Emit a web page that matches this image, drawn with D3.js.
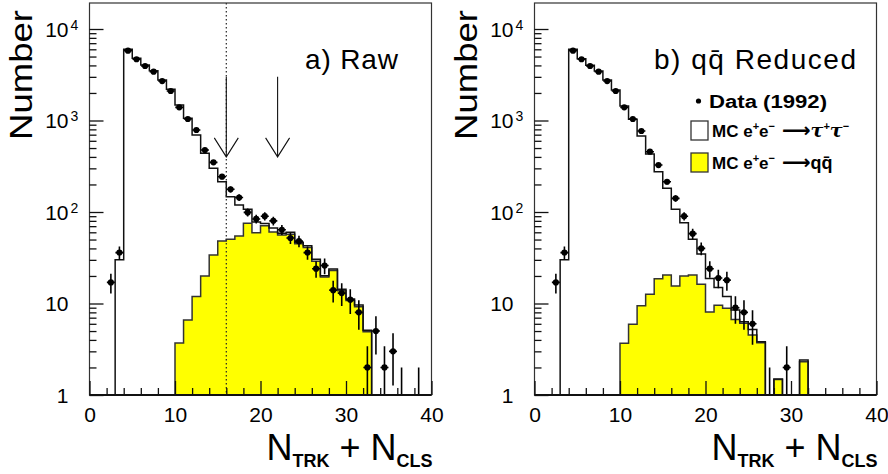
<!DOCTYPE html>
<html><head><meta charset="utf-8">
<script src="https://cdn.jsdelivr.net/npm/d3@7"></script>
<style>body{margin:0;background:#fff}svg{display:block}</style>
</head><body>
<svg id="c" width="888" height="474"></svg>
<script>
// ---- data (bins of width 1 from 0 to 40, index = lower edge) ----
const binEdges = d3.range(0, 41);
const leftData    = [0,0,17,36,5800,4670,3940,3415,2700,2100,1393,1038,787,476,349,243,177,144,99,84,90,80,64,52,48,36,24,26,14,13,11,8,2,5,2,3,1,0,1,0];
const leftMcStack = [0,0,0,30,6000,4786,4040,3500,2770,2193,1476,1057,695,438,300,214,147,119,107,78,75,67,58.5,60,46.6,42.8,30.4,20.1,23.8,14.3,11.2,9.6,5.1,0,0,0,0,0,0,0];
const leftQQ      = [0,0,0,0,0,0,0,0,0,0,3.7,6.6,11.9,20,33.9,48.2,50.3,54.7,75.2,59.4,70.8,60.5,56,57,45,41,29,19.5,23,13.8,10.8,9.2,4.9,0,0,0,0,0,0,0];
const rightData    = [0,0,17,36,5800,4670,3940,3415,2700,2100,1393,1038,768,456,326,214,141,90,58,40,24,19,18,9,8,6,0,1,0,2,0,0,0,0,0,0,0,0,0,0];
const rightMcStack = [0,0,0,30,6000,4740,4010,3475,2770,2155,1440,1030,677,430,276,182,107,76.4,50.3,34.8,18.8,15,11.9,8.5,6.3,5.2,3.83,0,1.5,0,0,2.41,0,0,0,0,0,0,0,0];
const rightQQ      = [0,0,0,0,0,0,0,0,0,0,3.67,5.93,9.46,12.6,18.7,20.5,15.5,20,20.5,16.2,8.07,9.56,8.86,6.7,6.07,4.53,3.73,0,1.48,0,0,2.31,0,0,0,0,0,0,0,0];

const xTicksMajor = [0, 10, 20, 30, 40];
const xTicksMinor = d3.range(0, 41, 2).filter(v => v % 10 !== 0);
const yTicksMajor = [1, 10, 100, 1000, 10000];
const yTickBase   = ["1", "10", "10", "10", "10"];
const yTickExp    = ["", "", "2", "3", "4"];
const yTicksMinor = [];
[1, 10, 100, 1000, 10000].forEach(d => d3.range(2, 10).forEach(k => { if (k * d < 1.92e4) yTicksMinor.push(k * d); }));
const panelTitles = ["a) Raw", "b) q\u0071\u0304 Reduced"];
const cutLine = 16;
const arrowX = [16, 22];
const arrowFrom = 3000, arrowTo = 400;
const legendLabels = ["Data (1992)", "MC", "MC"];

// ---- layout ----
const svg = d3.select("#c");
const W = 342, TOP = 3, BOT = 395, YMAX = 1.924e4;
const FONT = "'Liberation Sans', Arial, sans-serif";
const panels = [
  {x0: 89.5, data: leftData, mc: leftMcStack, qq: leftQQ, title: panelTitles[0], titleX: 305, titleLen: 93, cut: true},
  {x0: 534.5, data: rightData, mc: rightMcStack, qq: rightQQ, title: panelTitles[1], titleX: 654, titleLen: 202, legend: true}
];

const defs = svg.append("defs");

panels.forEach((p, pi) => {
  const x = d3.scaleLinear().domain([0, 40]).range([p.x0, p.x0 + W]);
  const y = d3.scaleLog().domain([1, YMAX]).range([BOT, TOP]);
  const lev = v => v > 1 ? y(Math.min(v, YMAX)) : BOT;

  defs.append("clipPath").attr("id", "clip" + pi)
    .append("rect").attr("x", p.x0).attr("y", TOP).attr("width", W).attr("height", BOT - TOP);

  const g = svg.append("g");
  const pg = g.append("g").attr("clip-path", `url(#clip${pi})`);

  function stepPath(vals) {
    let d = `M${x(binEdges[0])},${BOT}`;
    vals.forEach((v, i) => { d += `L${x(binEdges[i])},${lev(v)}L${x(binEdges[i + 1])},${lev(v)}`; });
    d += `L${x(binEdges[40])},${BOT}`;
    return d;
  }

  pg.append("path").attr("d", stepPath(p.qq) + "Z")
    .attr("fill", "#ffff00").attr("stroke", "#333").attr("stroke-width", 1.5);
  pg.append("path").attr("d", stepPath(p.mc))
    .attr("fill", "none").attr("stroke", "#111").attr("stroke-width", 1.5);

  if (p.cut) {
    pg.append("line").attr("x1", x(cutLine)).attr("x2", x(cutLine)).attr("y1", TOP).attr("y2", BOT)
      .attr("stroke", "#222").attr("stroke-width", 1.2).attr("stroke-dasharray", "1.5,2.5");
    arrowX.forEach(ax => {
      const tx = x(ax), ty = y(arrowTo);
      pg.append("path")
        .attr("d", `M${tx},${y(arrowFrom)}L${tx},${ty}M${tx - 12},${ty - 19}L${tx},${ty}L${tx + 12},${ty - 19}`)
        .attr("fill", "none").attr("stroke", "#111").attr("stroke-width", 1.1);
    });
  }

  p.data.forEach((v, i) => {
    if (v <= 0) return;
    const cx = x(binEdges[i] + 0.5);
    const e = Math.sqrt(v);
    pg.append("line").attr("x1", cx).attr("x2", cx)
      .attr("y1", lev(v + e)).attr("y2", lev(v - e))
      .attr("stroke", "#000").attr("stroke-width", 1.6);
    if (v > 1) {
      pg.append("line").attr("x1", cx - 4).attr("x2", cx + 4).attr("y1", y(v)).attr("y2", y(v))
        .attr("stroke", "#000").attr("stroke-width", 1.6);
      pg.append("circle").attr("cx", cx).attr("cy", y(v)).attr("r", 3.1).attr("fill", "#000");
    }
  });

  g.append("rect").attr("x", p.x0).attr("y", TOP).attr("width", W).attr("height", BOT - TOP)
    .attr("fill", "none").attr("stroke", "#333").attr("stroke-width", 1.2);
  g.append("line").attr("x1", p.x0).attr("x2", p.x0 + W).attr("y1", BOT).attr("y2", BOT)
    .attr("stroke", "#111").attr("stroke-width", 2);

  const tickStyle = sel => { sel.select(".domain").remove(); sel.selectAll("line").attr("stroke", "#111").attr("stroke-width", 1.3); };
  g.append("g").attr("transform", `translate(${p.x0},0)`)
    .call(d3.axisRight(y).tickValues(yTicksMajor).tickSize(14).tickFormat("")).call(tickStyle);
  g.append("g").attr("transform", `translate(${p.x0},0)`)
    .call(d3.axisRight(y).tickValues(yTicksMinor).tickSize(7).tickFormat("")).call(tickStyle);
  g.append("g").attr("transform", `translate(0,${BOT})`)
    .call(d3.axisTop(x).tickValues(xTicksMajor).tickSize(14).tickFormat("")).call(tickStyle);
  g.append("g").attr("transform", `translate(0,${BOT})`)
    .call(d3.axisTop(x).tickValues(xTicksMinor).tickSize(7).tickFormat("")).call(tickStyle);

  const xl = g.append("g").attr("transform", `translate(0,${BOT})`)
    .call(d3.axisBottom(x).tickValues(xTicksMajor).tickSize(0).tickPadding(0).tickFormat(d3.format("d")));
  xl.select(".domain").remove();
  xl.selectAll("text").attr("y", 27).attr("dy", null)
    .attr("font-family", FONT).attr("font-size", 21).attr("fill", "#000");

  yTicksMajor.forEach((v, i) => {
    g.append("text").attr("font-family", FONT).attr("fill", "#000")
      .attr("x", p.x0 - 21).attr("y", y(v) + 7.5).attr("font-size", 21).attr("text-anchor", "end").text(yTickBase[i]);
    if (yTickExp[i]) {
      g.append("text").attr("font-family", FONT).attr("fill", "#000").attr("font-size", 14)
        .attr("x", p.x0 - 19).attr("y", y(v) + 0.5).text(yTickExp[i]);
    }
  });

  g.append("text").attr("transform", `translate(${p.x0 - 57.5},75) rotate(-90)`)
    .attr("text-anchor", "middle").attr("font-family", FONT).attr("font-size", 32)
    .attr("textLength", 130).attr("lengthAdjust", "spacingAndGlyphs").text("Number");

  const xt = g.append("text").attr("x", p.x0 + W + 1).attr("y", 460).attr("text-anchor", "end")
    .attr("font-family", FONT).attr("fill", "#000");
  xt.append("tspan").attr("font-size", 36).text("N");
  xt.append("tspan").attr("font-size", 18).attr("font-weight", "bold").attr("dy", 7).text("TRK");
  xt.append("tspan").attr("font-size", 36).attr("dy", -7).text(" + N");
  xt.append("tspan").attr("font-size", 18).attr("font-weight", "bold").attr("dy", 7).text("CLS");

  g.append("text").attr("x", p.titleX).attr("y", 69).attr("font-family", FONT).attr("font-size", 28)
    .attr("fill", "#000").attr("textLength", p.titleLen).attr("lengthAdjust", "spacing").text(p.title);

  if (p.legend) {
    const lx = 691;
    g.append("circle").attr("cx", lx + 7.5).attr("cy", 101).attr("r", 2.6).attr("fill", "#000");
    g.append("text").attr("x", 709).attr("y", 107.5).attr("font-family", FONT).attr("font-weight", "bold")
      .attr("font-size", 18).attr("textLength", 118).attr("lengthAdjust", "spacingAndGlyphs").text(legendLabels[0]);
    g.append("rect").attr("x", lx).attr("y", 121).attr("width", 17).attr("height", 19)
      .attr("fill", "#fff").attr("stroke", "#333").attr("stroke-width", 1.3);
    g.append("rect").attr("x", lx).attr("y", 153).attr("width", 17).attr("height", 19)
      .attr("fill", "#ffff00").attr("stroke", "#333").attr("stroke-width", 1.3);
    const addProc = (yy, prod) => {
      const t = g.append("text").attr("x", 712).attr("y", yy).attr("font-family", FONT)
        .attr("font-weight", "bold").attr("font-size", 17).attr("fill", "#000");
      t.append("tspan").text(legendLabels[1] + " e");
      t.append("tspan").attr("font-size", 11).attr("dy", -7).text("+");
      t.append("tspan").attr("dy", 7).text("e");
      t.append("tspan").attr("font-size", 11).attr("dy", -7).text("\u2212");
      t.append("tspan").attr("dy", 7).attr("font-family", "'DejaVu Sans', sans-serif").attr("font-weight", "bold").attr("font-size", 20).text(" \u27F6");
      prod(t);
    };
    addProc(137, t => {
      t.append("tspan").attr("font-style", "italic").attr("font-family", "'DejaVu Serif', serif").attr("font-size", 19).text("\u03C4");
      t.append("tspan").attr("font-size", 11).attr("dy", -7).text("+");
      t.append("tspan").attr("font-style", "italic").attr("font-family", "'DejaVu Serif', serif").attr("font-size", 19).attr("dy", 7).text("\u03C4");
      t.append("tspan").attr("font-size", 11).attr("dy", -7).text("\u2212");
    });
    addProc(169, t => {
      t.append("tspan").attr("font-size", 18).text("q\u0071\u0304");
    });
  }
});
</script>
</body></html>
